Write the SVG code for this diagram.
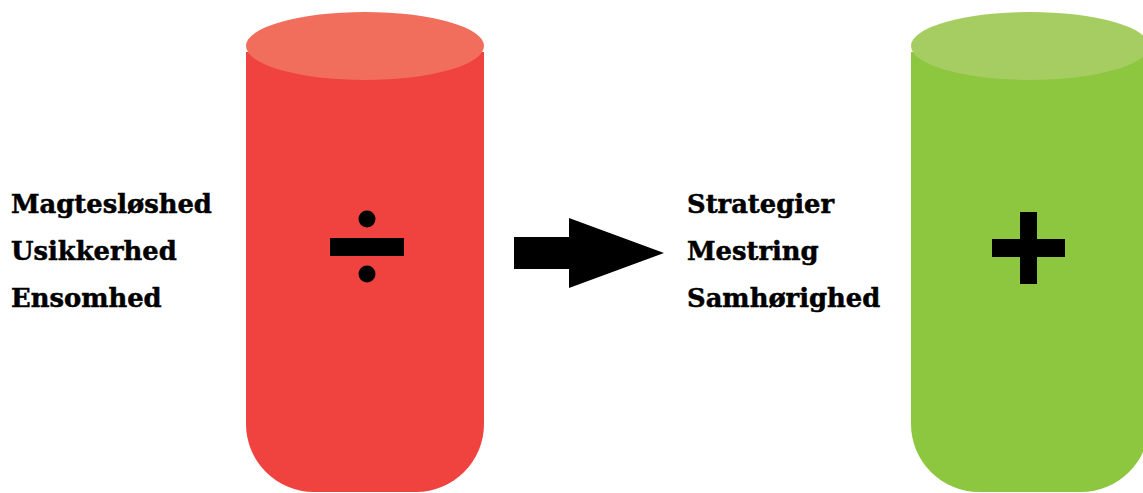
<svg xmlns="http://www.w3.org/2000/svg" width="1143" height="493" viewBox="0 0 1143 493">
<style>
.lbl{font-family:"DejaVu Serif","Liberation Serif",serif;font-weight:bold;font-size:25.8px;fill:#000;stroke:#000;stroke-width:0.5px}
.sym{fill:#000}
</style>
<rect width="1143" height="493" fill="#fff"/>
<g id="red-cylinder">
<path d="M246 52 H484 V424 A68 68 0 0 1 416 492 H314 A68 68 0 0 1 246 424 Z" fill="#F04340"/>
<ellipse cx="365" cy="46" rx="119" ry="34" fill="#F16E5C"/>
<circle class="sym" cx="367" cy="219" r="8.5"/>
<circle class="sym" cx="367" cy="274" r="8.5"/>
<rect class="sym" x="330" y="238" width="74" height="18"/>
</g>
<g id="green-cylinder">
<path d="M911 52 H1149 V424 A68 68 0 0 1 1081 492 H979 A68 68 0 0 1 911 424 Z" fill="#8DC63F"/>
<ellipse cx="1030" cy="46" rx="119" ry="34" fill="#A5CD62"/>
<rect class="sym" x="1020" y="212" width="17" height="72"/>
<rect class="sym" x="992" y="239" width="73" height="18"/>
</g>
<g id="left-labels">
<text class="lbl" x="11" y="213">Magtesløshed</text>
<text class="lbl" x="11" y="260">Usikkerhed</text>
<text class="lbl" x="11" y="307">Ensomhed</text>
</g>
<g id="right-labels">
<text class="lbl" x="687" y="213">Strategier</text>
<text class="lbl" x="687" y="260">Mestring</text>
<text class="lbl" x="687" y="307">Samhørighed</text>
</g>
<g id="connectors">
<polygon points="514,237 569,237 569,218 664,253 569,288 569,269 514,269" fill="#000"/>
</g>
</svg>
